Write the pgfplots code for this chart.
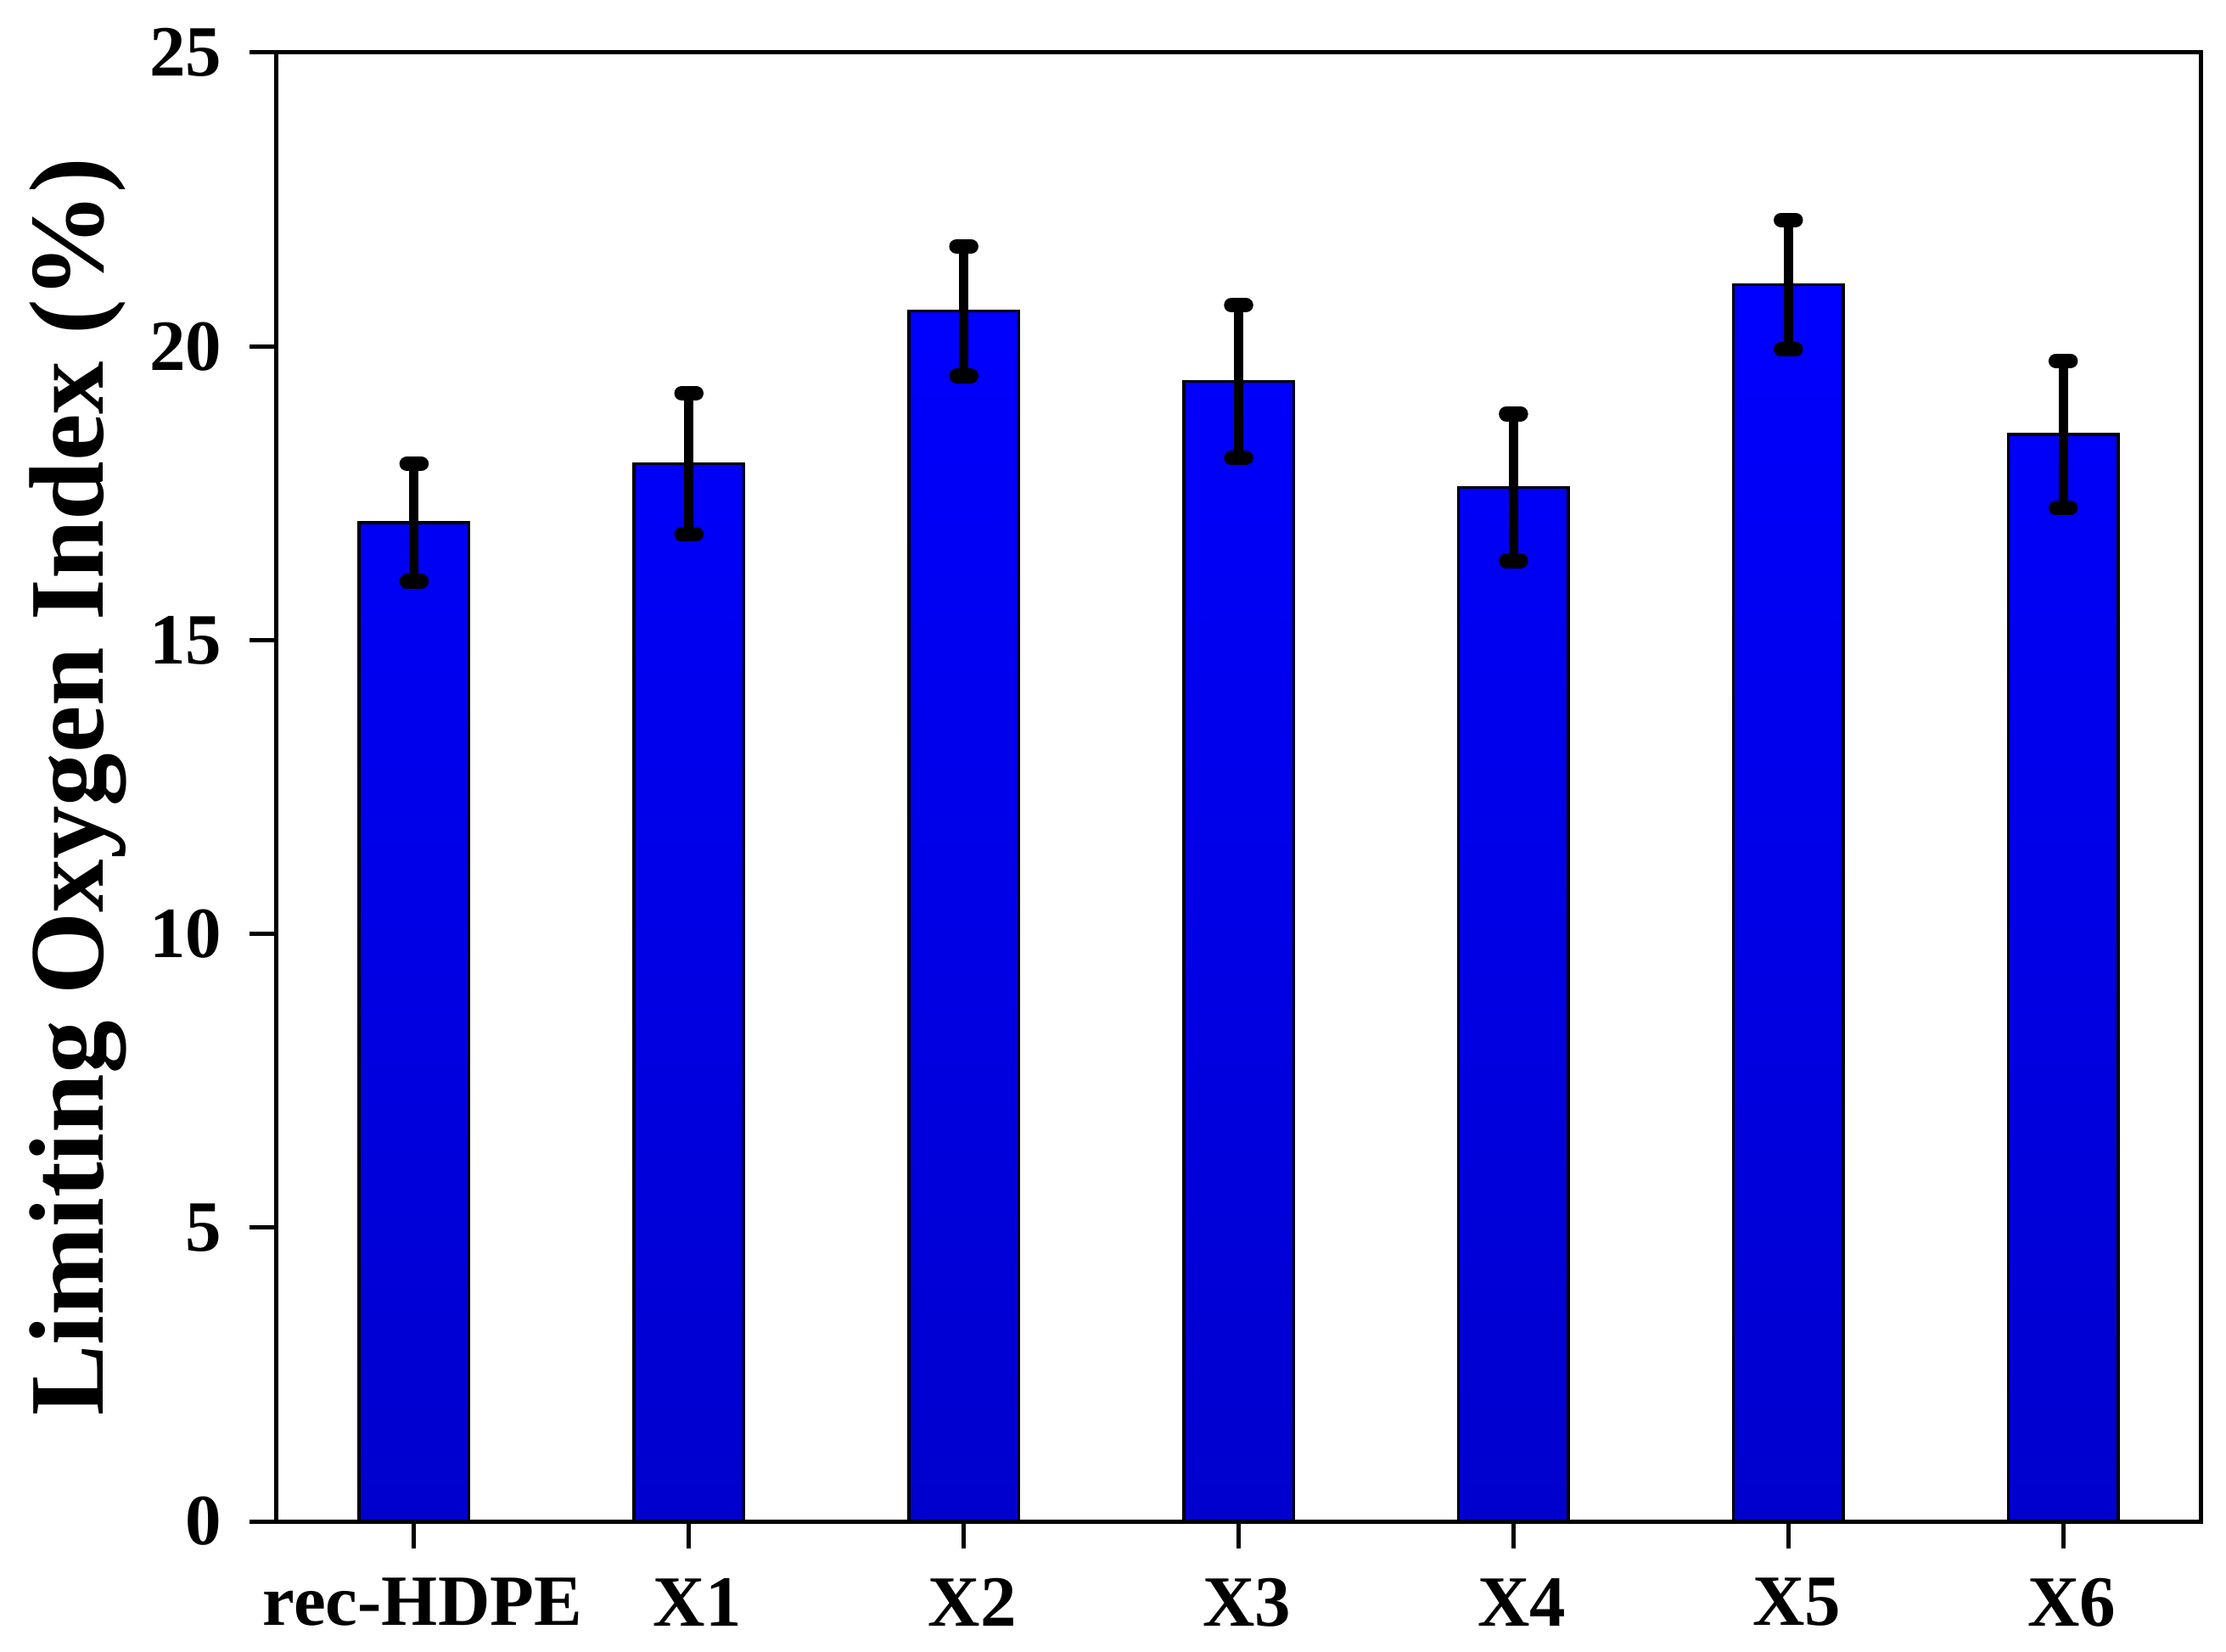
\documentclass[border=0pt]{standalone}
\usepackage{fontspec}
\setmainfont{Liberation Serif}
\usepackage{pgfplots}
\pgfplotsset{compat=1.18}
\usepackage{pgfplotstable}
\definecolor{bartop}{RGB}{0,0,255}
\definecolor{barbot}{RGB}{0,0,205}
\pgfplotstableread{
x y err
0 17.0 1.0
1 18.0 1.2
2 20.6 1.1
3 19.4 1.3
4 17.6 1.25
5 21.05 1.1
6 18.5 1.25
}\lodata
\begin{document}
\begin{tikzpicture}
\begin{axis}[
  scale only axis,
  width=453.4pt, height=346.2pt,
  xmin=-0.5, xmax=6.5,
  ymin=0, ymax=25,
  xtick=data,
  xticklabels={rec-HDPE,X1,X2,X3,X4,X5,X6},
  ytick={0,5,10,15,20,25},
  tick align=outside,
  xtick pos=bottom, ytick pos=left,
  major tick length=6.4pt,
  axis line style={line width=1pt},
  every tick/.style={black, line width=1pt},
  /pgf/number format/assume math mode=true,
  tick label style={font=\fontsize{17}{20}\selectfont\bfseries},
  yticklabel style={xshift=-3pt},
  xticklabel style={yshift=-3.5pt, xshift=2pt},
  ylabel={Limiting Oxygen Index (\%)},
  ylabel style={font=\fontsize{25}{30}\selectfont\bfseries, at={(axis description cs:-0.1032,0.5)}, anchor=center},
  clip=false,
]
\addplot[ybar, bar width=0.4, draw=black, line width=0.7pt, top color=bartop, bottom color=barbot] table[x=x,y=y] {\lodata};
\addplot[draw=none, mark=none, forget plot,
  error bars/.cd, y dir=both, y explicit,
  error bar style={line width=2.2pt, black},
  error mark options={rotate=90, mark size=1.7pt, line width=3.5pt, line cap=round, black}]
  table[x=x,y=y,y error=err] {\lodata};
\path (axis description cs:-0.1438,-0.0884) (axis description cs:1.0132,1.0358);
\end{axis}
\end{tikzpicture}
\end{document}
